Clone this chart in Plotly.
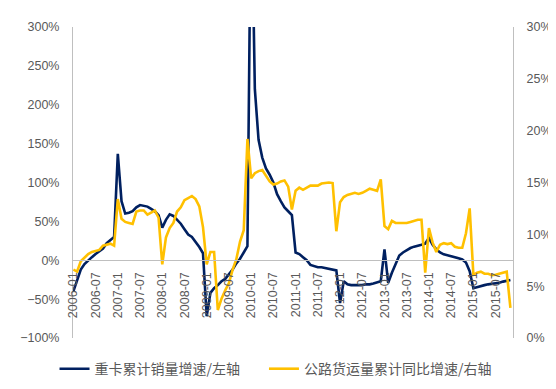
import plotly.graph_objects as go

# ---- data ----
months = [f"{y}-{m:02d}" for y in range(2006, 2016) for m in range(1, 13)][:119]
tick_labels = [f"{y}-{m:02d}" for y in range(2006, 2016) for m in (1, 7)]

heavy_truck_sales_growth = [  # %, left axis
    -40, -25, -12, -5, 0, 4, 8, 11, 15, 22, 26, 30,
    137, 76, 60, 61, 63, 68, 71, 70, 69, 66, 63, 58,
    42, 52, 59, 57, 52, 47, 40, 33, 30, 24, 17, 9,
    -72, -42, -36, -32, -27, -24, -18, -12, -4, 2, 10, 18,
    500, 220, 155, 132, 118, 110, 100, 85, 76, 68, 63, 58,
    10, 8, 4, 0, -6, -8, -9, -9, -10, -11, -12, -13,
    -55, -27, -31, -32, -32, -32, -32, -31, -31, -30, -28, -27,
    14, -29, -16, -4, 6, 10, 13, 15.7, 17.5, 18.5, 20, 21.5,
    28.6, 20, 14, 10, 7.6, 6.5, 5.5, 4, 2.5, 1, -3, -14,
    -36, -34.5, -33, -32, -31, -30.5, -30, -29, -27.5, -26.5, -25.5,
]

road_freight_growth = [  # %, right axis
    6.6, 6.4, 7.4, 7.8, 8.1, 8.3, 8.4, 8.5, 8.9, 9.0, 9.1, 8.9,
    13.4, 11.5, 11.2, 11.1, 11.0, 12.2, 12.3, 12.3, 11.9, 12.1, 12.3, 11.6,
    7.1, 9.7, 10.6, 11.1, 12.2, 12.6, 13.3, 13.5, 13.7, 13.4, 12.7, 10.7,
    7.1, 8.3, 8.3, 2.7, 3.8, 4.6, 5.3, 6.6, 7.6, 9.3, 10.4, 19.2,
    15.4, 15.9, 16.1, 16.2, 15.6, 15.1, 14.8, 14.9, 15.1, 15.2, 14.6, 12.4,
    14.2, 14.5, 14.3, 14.5, 14.7, 14.7, 14.7, 14.9, 14.95, 15.0, 14.95, 10.3,
    13.1, 13.6, 13.8, 13.9, 14.0, 13.9, 14.0, 14.2, 14.4, 14.3, 14.2, 15.3,
    10.8, 10.5, 11.3, 11.1, 11.1, 11.1, 11.1, 11.2, 11.3, 11.4, 11.4, 6.3,
    10.6, 9.2, 8.3, 9.0, 9.15, 9.06, 9.15, 8.8, 8.7, 8.7, 10.1, 12.5,
    6.1, 6.3, 6.4, 6.2, 6.2, 6.05, 6.1, 6.2, 6.3, 6.4, 2.9,
]

name_left = "重卡累计销量增速/左轴"
name_right = "公路货运量累计同比增速/右轴"

NAVY = "#002060"
GOLD = "#FFC000"
GRAY_TXT = "#595959"
AXIS_LINE = "#BFBFBF"
TICK_FONT = dict(family="Liberation Sans", size=12.5, color=GRAY_TXT)
LEGEND_FONT = dict(family="Noto Sans CJK SC", size=14, color=GRAY_TXT)

fig = go.Figure()
fig.add_trace(go.Scatter(x=months, y=heavy_truck_sales_growth, name=name_left,
                         mode="lines", line=dict(color=NAVY, width=2.6), yaxis="y",
                         legend="legend"))
fig.add_trace(go.Scatter(x=months, y=road_freight_growth, name=name_right,
                         mode="lines", line=dict(color=GOLD, width=2.6), yaxis="y2",
                         legend="legend2"))

fig.update_layout(
    width=556, height=389,
    margin=dict(l=52, r=44, t=14, b=44),
    paper_bgcolor="white", plot_bgcolor="white",
    showlegend=True,
    legend=dict(orientation="h", xanchor="left", yanchor="middle",
                x=-0.042, y=-0.1, font=LEGEND_FONT, bgcolor="rgba(0,0,0,0)"),
    legend2=dict(orientation="h", xanchor="left", yanchor="middle",
                 x=0.434, y=-0.1, font=LEGEND_FONT, bgcolor="rgba(0,0,0,0)"),
    xaxis=dict(type="category", categoryorder="array", categoryarray=months,
               range=[-0.1, 118.7], tickmode="array", tickvals=tick_labels,
               ticktext=tick_labels, tickangle=-90, tickfont=TICK_FONT,
               showgrid=False, zeroline=False, showline=True, linecolor=AXIS_LINE,
               linewidth=1, anchor="free", position=(0 - (-100)) / 400,
               ticks="", ticklabelstandoff=6),
    yaxis=dict(range=[-100, 300], dtick=50, tick0=0, ticksuffix="%",
               tickfont=TICK_FONT, showgrid=False, zeroline=False,
               showline=True, linecolor=AXIS_LINE, linewidth=1, ticks="",
               ticklabelstandoff=10),
    yaxis2=dict(range=[0, 30], dtick=5, tick0=0, ticksuffix="%",
                overlaying="y", side="right", tickfont=TICK_FONT,
                showgrid=False, zeroline=False, showline=True,
                linecolor=AXIS_LINE, linewidth=1, ticks="",
                ticklabelstandoff=10),
)

fig.write_html("out.html")
